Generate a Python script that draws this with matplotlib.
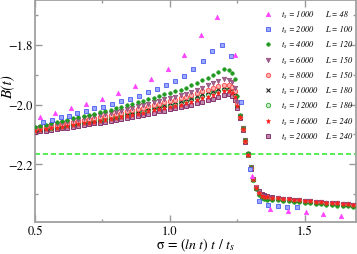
import numpy as np
import matplotlib.pyplot as plt
from matplotlib.ticker import MultipleLocator

plt.rcParams['font.family'] = ['STIXGeneral', 'Liberation Serif', 'DejaVu Serif']
plt.rcParams['mathtext.fontset'] = 'stix'

# t_s = 1000, L = 48
sig_1000 = [0.519, 0.574, 0.633, 0.689, 0.748, 0.807, 0.870, 0.930, 0.993, 1.052,
            1.115, 1.174, 1.241, 1.304, 1.370, 1.437, 1.504, 1.567, 1.633]
B_1000 = [-2.043, -2.027, -2.013, -1.997, -1.980, -1.960, -1.937, -1.913, -1.880, -1.833,
          -1.767, -1.707, -1.833, -2.240, -2.348, -2.355, -2.360, -2.367, -2.372]

# t_s = 2000, L = 100
sig_2000 = [0.530, 0.563, 0.596, 0.626, 0.656, 0.689, 0.719, 0.752, 0.785, 0.819,
            0.852, 0.885, 0.919, 0.952, 0.985, 1.019, 1.052, 1.085, 1.122, 1.156,
            1.193, 1.226, 1.263, 1.296, 1.330, 1.363, 1.400, 1.433, 1.470]
B_2000 = [-2.057, -2.050, -2.043, -2.037, -2.027, -2.020, -2.013, -2.007, -1.997, -1.987,
          -1.980, -1.970, -1.957, -1.947, -1.933, -1.920, -1.903, -1.880, -1.853, -1.820,
          -1.800, -1.837, -1.993, -2.217, -2.323, -2.337, -2.340, -2.343, -2.343]

# the larger runs share one sampling in sigma (finer through the drop)
sig_dense = [0.50, 0.52, 0.54, 0.56, 0.58, 0.60, 0.62, 0.64, 0.66, 0.68,
             0.70, 0.72, 0.74, 0.76, 0.78, 0.80, 0.82, 0.84, 0.86, 0.88,
             0.90, 0.92, 0.94, 0.96, 0.98, 1.00, 1.02, 1.04, 1.06, 1.08,
             1.10, 1.12, 1.14, 1.16, 1.18, 1.20, 1.22,
             1.23, 1.24, 1.25, 1.26, 1.27, 1.28, 1.29, 1.30, 1.31, 1.32,
             1.33, 1.34, 1.35, 1.36,
             1.38, 1.40, 1.42, 1.44, 1.46, 1.48, 1.50, 1.52, 1.54, 1.56,
             1.58, 1.60, 1.62, 1.64, 1.66, 1.68]

B_4000 = [-2.075, -2.071, -2.067, -2.063, -2.058, -2.054, -2.050, -2.046, -2.042, -2.038,
          -2.034, -2.030, -2.025, -2.021, -2.017, -2.013, -2.008, -2.003, -1.997, -1.992,
          -1.987, -1.982, -1.977, -1.972, -1.966, -1.961, -1.956, -1.951, -1.944, -1.936,
          -1.928, -1.919, -1.910, -1.901, -1.891, -1.882, -1.883,
          -1.893, -1.915, -1.970, -2.035, -2.078, -2.118, -2.163, -2.208, -2.250, -2.282,
          -2.302, -2.313, -2.316, -2.318,
          -2.320, -2.321, -2.323, -2.324, -2.326, -2.327, -2.329, -2.330, -2.332, -2.334,
          -2.335, -2.337, -2.338, -2.340, -2.341, -2.343]

B_6000 = [-2.078, -2.074, -2.071, -2.067, -2.064, -2.060, -2.057, -2.053, -2.050, -2.046,
          -2.043, -2.039, -2.036, -2.032, -2.029, -2.025, -2.020, -2.016, -2.011, -2.006,
          -2.002, -1.997, -1.992, -1.988, -1.983, -1.978, -1.974, -1.969, -1.964, -1.957,
          -1.950, -1.943, -1.936, -1.928, -1.921, -1.915, -1.919,
          -1.925, -1.945, -1.990, -2.038, -2.080, -2.120, -2.165, -2.210, -2.248, -2.278,
          -2.296, -2.307, -2.310, -2.312,
          -2.313, -2.314, -2.316, -2.317, -2.319, -2.320, -2.322, -2.323, -2.325, -2.327,
          -2.328, -2.330, -2.331, -2.333, -2.334, -2.336]

B_8000 = [-2.081, -2.078, -2.074, -2.071, -2.068, -2.065, -2.061, -2.058, -2.055, -2.052,
          -2.048, -2.045, -2.042, -2.038, -2.035, -2.032, -2.028, -2.023, -2.019, -2.014,
          -2.010, -2.006, -2.001, -1.997, -1.992, -1.988, -1.984, -1.979, -1.974, -1.968,
          -1.962, -1.956, -1.950, -1.944, -1.938, -1.933, -1.935,
          -1.940, -1.955, -1.995, -2.040, -2.081, -2.121, -2.166, -2.211, -2.249, -2.277,
          -2.295, -2.306, -2.309, -2.311,
          -2.313, -2.314, -2.316, -2.317, -2.319, -2.320, -2.322, -2.323, -2.325, -2.327,
          -2.328, -2.330, -2.331, -2.333, -2.334, -2.336]

B_10000 = [-2.084, -2.081, -2.078, -2.075, -2.072, -2.068, -2.065, -2.062, -2.059, -2.056,
           -2.053, -2.050, -2.047, -2.043, -2.040, -2.037, -2.033, -2.029, -2.025, -2.020,
           -2.016, -2.012, -2.008, -2.004, -2.000, -1.996, -1.991, -1.987, -1.983, -1.977,
           -1.971, -1.965, -1.959, -1.953, -1.947, -1.941, -1.942,
           -1.948, -1.962, -2.000, -2.041, -2.082, -2.122, -2.167, -2.212, -2.250, -2.278,
           -2.295, -2.306, -2.310, -2.312,
           -2.313, -2.314, -2.316, -2.317, -2.319, -2.320, -2.322, -2.323, -2.325, -2.327,
           -2.328, -2.330, -2.331, -2.333, -2.334, -2.336]

B_12000 = [-2.086, -2.083, -2.080, -2.077, -2.074, -2.071, -2.068, -2.065, -2.062, -2.059,
           -2.056, -2.053, -2.050, -2.047, -2.044, -2.041, -2.037, -2.033, -2.029, -2.025,
           -2.021, -2.017, -2.013, -2.009, -2.005, -2.001, -1.997, -1.993, -1.989, -1.983,
           -1.977, -1.971, -1.965, -1.959, -1.953, -1.947, -1.948,
           -1.953, -1.968, -2.002, -2.042, -2.083, -2.123, -2.168, -2.213, -2.251, -2.279,
           -2.297, -2.308, -2.312, -2.315,
           -2.316, -2.317, -2.319, -2.320, -2.322, -2.323, -2.325, -2.326, -2.328, -2.330,
           -2.331, -2.333, -2.334, -2.336, -2.337, -2.339]

B_16000 = [-2.089, -2.086, -2.083, -2.080, -2.078, -2.075, -2.072, -2.069, -2.066, -2.063,
           -2.060, -2.058, -2.055, -2.052, -2.049, -2.046, -2.042, -2.039, -2.035, -2.031,
           -2.027, -2.023, -2.019, -2.015, -2.012, -2.008, -2.004, -2.000, -1.996, -1.990,
           -1.984, -1.978, -1.973, -1.967, -1.961, -1.955, -1.955,
           -1.960, -1.975, -2.005, -2.043, -2.083, -2.123, -2.168, -2.213, -2.250, -2.278,
           -2.295, -2.305, -2.309, -2.311,
           -2.313, -2.314, -2.316, -2.317, -2.319, -2.320, -2.322, -2.323, -2.325, -2.327,
           -2.328, -2.330, -2.331, -2.333, -2.334, -2.336]

B_20000 = [-2.093, -2.090, -2.088, -2.085, -2.082, -2.079, -2.077, -2.074, -2.071, -2.068,
           -2.066, -2.063, -2.060, -2.057, -2.055, -2.052, -2.048, -2.045, -2.041, -2.038,
           -2.034, -2.031, -2.027, -2.023, -2.020, -2.016, -2.012, -2.009, -2.005, -2.000,
           -1.996, -1.991, -1.986, -1.980, -1.974, -1.968, -1.965,
           -1.970, -1.985, -2.010, -2.045, -2.085, -2.125, -2.170, -2.215, -2.250, -2.275,
           -2.290, -2.298, -2.302, -2.305,
           -2.311, -2.314, -2.316, -2.317, -2.319, -2.320, -2.322, -2.323, -2.325, -2.327,
           -2.328, -2.330, -2.331, -2.333, -2.334, -2.336]

ts_list = [1000, 2000, 4000, 6000, 8000, 10000, 12000, 16000, 20000]
L_list = [48, 100, 120, 150, 150, 180, 180, 240, 240]
B_inf = -2.167

styles = {
    1000: dict(marker='^', ms=3.2, mfc='#ff44ff', mec='#ff44ff', mew=0.5),
    2000: dict(marker='s', ms=3.0, mfc='#9aa8ff', mec='#4a5cf0', mew=0.6),
    4000: dict(marker='o', ms=2.6, mfc='#1f9a1f', mec='#1f9a1f', mew=0.4),
    6000: dict(marker='v', ms=3.2, mfc='#a8628f', mec='#8e4a78', mew=0.5),
    8000: dict(marker='o', ms=3.2, mfc='#ffb0b0', mec='#ff4a4a', mew=0.6),
    10000: dict(marker='x', ms=3.0, mfc='none', mec='#222222', mew=0.8),
    12000: dict(marker='o', ms=3.2, mfc='#c8eec8', mec='#2ea82e', mew=0.6),
    16000: dict(marker='*', ms=3.6, mfc='#ff2020', mec='#ff2020', mew=0.4),
    20000: dict(marker='s', ms=3.2, mfc='#c08ab0', mec='#7a1e5e', mew=0.6),
}

data = {
    1000: (sig_1000, B_1000), 2000: (sig_2000, B_2000),
    4000: (sig_dense, B_4000), 6000: (sig_dense, B_6000),
    8000: (sig_dense, B_8000), 10000: (sig_dense, B_10000),
    12000: (sig_dense, B_12000), 16000: (sig_dense, B_16000),
    20000: (sig_dense, B_20000),
}

fig = plt.figure(figsize=(3.57, 2.55), dpi=100)
ax = fig.add_axes([35 / 357, 1 - 223 / 255, 321 / 357, 222 / 255])

ax.axhline(B_inf, color='#55ee55', lw=1.4, ls=(0, (2.6, 1.5)), zorder=1)

handles = {}
for ts in [20000, 12000, 10000, 8000, 6000, 4000, 16000, 2000, 1000]:
    s, b = data[ts]
    h, = ax.plot(s, b, ls='none', zorder=3, **styles[ts])
    handles[ts] = h

ax.set_xlim(0.5, 1.69)
ax.set_ylim(-2.393, -1.65)
ax.xaxis.set_major_locator(MultipleLocator(0.5))
ax.xaxis.set_minor_locator(MultipleLocator(0.25))
ax.yaxis.set_major_locator(MultipleLocator(0.2))
ax.yaxis.set_minor_locator(MultipleLocator(0.1))
ax.tick_params(which='both', direction='in', top=True, right=True,
               color='#999999', labelsize=9, pad=2)
ax.tick_params(which='major', length=5, width=1)
ax.tick_params(which='minor', length=2.5, width=1)
for sp in ax.spines.values():
    sp.set_color('#a0a0a0')
    sp.set_linewidth(1.3)

ax.set_ylabel('B(t)', style='italic', fontsize=11)
ax.yaxis.set_label_coords(-0.062, 0.614)
ax.set_xlabel('σ = (' + r'$ln\ t$' + ') ' + r'$t$' + ' / ' + r'$t_s$', fontsize=10)
ax.xaxis.set_label_coords(0.5, -0.063)

labels = [r'$t_s$' + ' = %d' % ts for ts in ts_list]
leg = ax.legend([handles[ts] for ts in ts_list], labels, loc='upper left',
                bbox_to_anchor=(0.713, 0.962), frameon=False,
                prop={'style': 'italic', 'size': 6}, handlelength=1.0,
                handletextpad=1.1, labelspacing=0.46, borderpad=0, borderaxespad=0)

fig.canvas.draw()
inv = ax.transAxes.inverted()
for txt, L in zip(leg.get_texts(), L_list):
    bb = txt.get_window_extent()
    ya = inv.transform((0, (bb.y0 + bb.y1) / 2))[1]
    ax.text(0.903, ya, 'L = %d' % L, transform=ax.transAxes, va='center',
            style='italic', fontsize=6)

fig.savefig('out.png', dpi=100)
